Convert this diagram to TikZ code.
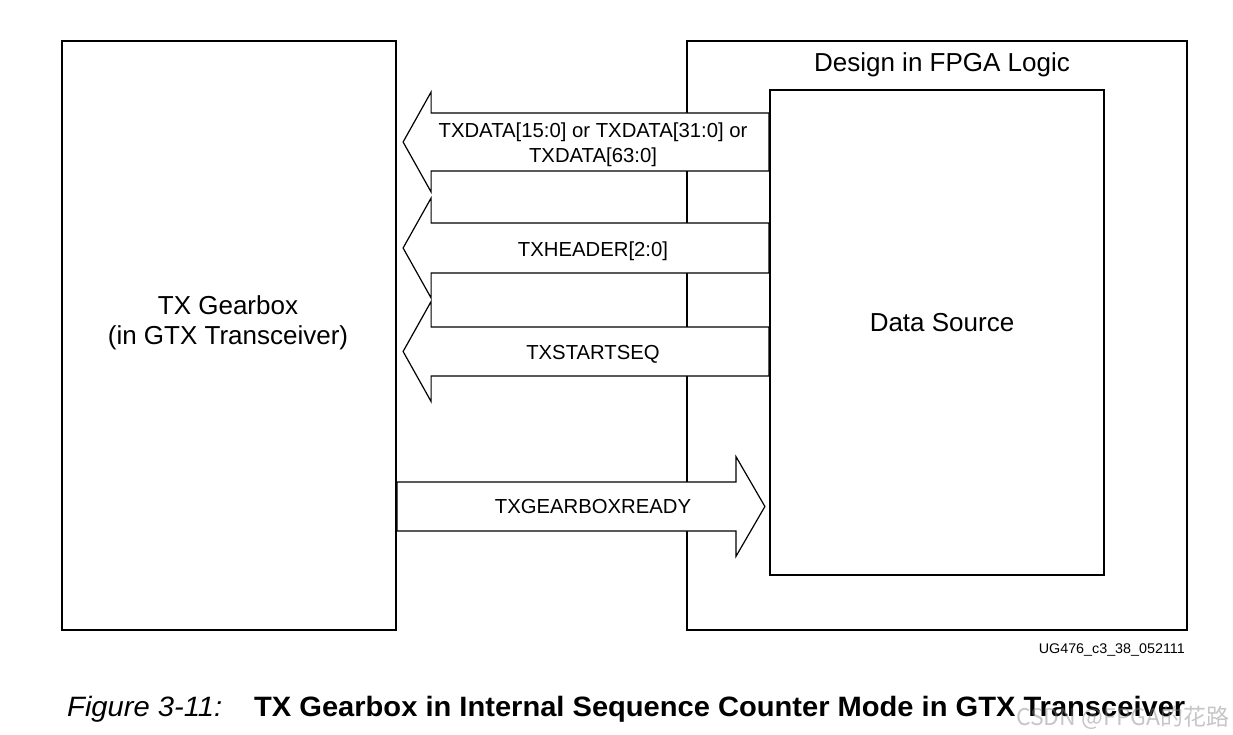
\documentclass[tikz,border=0pt]{standalone}
\usepackage{fontspec}
\setmainfont{Liberation Sans}
\newfontfamily\cjkfont{Noto Sans CJK SC}
\usetikzlibrary{calc, backgrounds}

\begin{document}
\begin{tikzpicture}[
      x=1pt, y=-1pt,
      block/.style={draw, line width=2.2pt, minimum width=334pt, inner sep=0pt},
      bus/.style={draw, fill=white, line width=1.2pt},
      signal/.style={font=\fontsize{20.3}{25}\selectfont, anchor=base},
      title/.style={font=\fontsize{26}{30}\selectfont}
    ]
    \useasboundingbox (0,0) rectangle (1233,735);
    \node[block, minimum height=589pt] (gearbox) at (229,335.5) {};
    \node[block, minimum height=485pt] (source) at (937,332.5) {};
    \begin{scope}[on background layer]
      \node[block, minimum width=500pt, minimum height=589pt] (fpga) at (937,335.5) {};
      % buses from the data source
      \foreach \yc/\bh/\nm in {142/29/data, 248/25/header, 351.5/24.5/start} {
        \coordinate (\nm) at (0,\yc);
        \path[bus] ($(source.west |- \nm)+(0,-\bh)$)
          -- ($(gearbox.east |- \nm)+(34,-\bh)$)
          -- ($(gearbox.east |- \nm)+(34,-50)$)
          -- ($(gearbox.east |- \nm)+(6,0)$)
          -- ($(gearbox.east |- \nm)+(34,50)$)
          -- ($(gearbox.east |- \nm)+(34,\bh)$)
          -- ($(source.west |- \nm)+(0,\bh)$) -- cycle;
      }
      % ready flag back to the source
      \coordinate (ready) at (0,506.5);
      \path[bus] ($(gearbox.east |- ready)+(0,-24.5)$)
        -- ($(source.west |- ready)+(-33,-24.5)$)
        -- ($(source.west |- ready)+(-33,-50)$)
        -- ($(source.west |- ready)+(-4,0)$)
        -- ($(source.west |- ready)+(-33,50)$)
        -- ($(source.west |- ready)+(-33,24.5)$)
        -- ($(gearbox.east |- ready)+(0,24.5)$) -- cycle;
    \end{scope}
    \node[title, align=center] (gearboxlbl) at (228,323) {TX Gearbox\\(in GTX Transceiver)};
    \node[title, anchor=base] (fpgalbl) at (942,72) {Design in FPGA Logic};
    \node[title, anchor=base] (sourcelbl) at (942,331) {Data Source};
    \node[signal, anchor=center, align=center] (datalbl) at (593,145) {TXDATA[15:0] or TXDATA[31:0] or\\TXDATA[63:0]};
    \node[signal] (headerlbl) at (593,256) {TXHEADER[2:0]};
    \node[signal] (startlbl) at (593,359) {TXSTARTSEQ};
    \node[signal] (readylbl) at (593,513) {TXGEARBOXREADY};
    % figure id and caption
    \node[anchor=base east, inner sep=0pt, font=\fontsize{14}{16}\selectfont] (figid) at (1185,653) {\resizebox{146pt}{\height}{UG476\_c3\_38\_052111}};
    \node[anchor=base west, inner sep=0pt, font=\fontsize{28}{34}\selectfont\itshape] (fignum) at (67,716) {\resizebox{155pt}{\height}{Figure 3-11:}};
    \node[anchor=base west, inner sep=0pt, font=\fontsize{28}{34}\selectfont\bfseries] (figtitle) at (254,716) {\resizebox{931pt}{\height}{TX Gearbox in Internal Sequence Counter Mode in GTX Transceiver}};
    \node[anchor=base west, inner sep=0pt, text=gray, opacity=0.45, font=\cjkfont\fontsize{23}{26}\selectfont] (mark) at (1016,725) {CSDN @FPGA的花路};
  \end{tikzpicture}
\end{document}
